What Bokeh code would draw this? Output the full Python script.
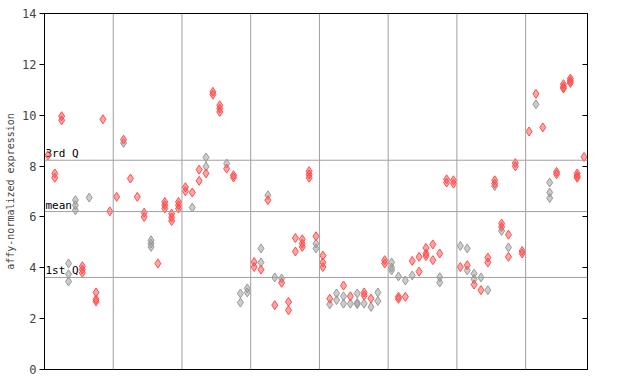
from bokeh.plotting import figure
from bokeh.models import Span, FixedTicker, LinearAxis, ColumnDataSource
from bokeh.core.properties import value
from bokeh.embed import file_html
from bokeh.resources import INLINE

# ---- data ----
red_cols = [0, 1, 1, 2, 2, 5, 5, 5, 7, 7, 7, 8, 9, 10, 11, 12, 13, 14, 14, 16,
            17, 17, 17, 18, 18, 18, 19, 19, 19, 20, 20, 21, 22, 22, 23, 24, 24,
            25, 25, 25, 26, 27, 27, 30, 30, 31, 32, 33, 34, 35, 35, 36, 36,
            37, 37, 37, 38, 38, 38, 39, 40, 40, 40, 41, 43, 44, 46, 46, 47,
            49, 49, 51, 51, 52, 53, 54, 54, 55, 55, 55, 56, 56, 57, 58, 58,
            59, 59, 60, 61, 62, 63, 64, 64, 65, 65, 66, 66, 67, 67, 68, 68,
            69, 69, 70, 71, 72, 74, 74, 75, 75, 75, 76, 76, 76, 77, 77, 77, 78]
red_vals = [8.42, 7.71, 7.54, 9.96, 9.80, 4.06, 3.93, 3.80, 3.03, 2.76, 2.67, 9.84,
            6.22, 6.79, 9.04, 7.51, 6.79, 6.17, 6.00, 4.17,
            6.59, 6.46, 6.33, 6.13, 5.98, 5.84, 6.59, 6.46, 6.33, 7.17, 7.01, 6.96,
            7.86, 7.42, 7.71, 10.92, 10.81,
            10.39, 10.26, 10.13, 7.90, 7.64, 7.55, 4.23, 4.03, 3.93, 6.66, 2.53, 3.41,
            2.66, 2.33, 5.17, 4.64,
            5.12, 4.95, 4.82, 7.80, 7.67, 7.54, 5.24, 4.48, 4.21, 4.03, 2.78, 3.30,
            2.88, 3.03, 2.91, 2.79,
            4.30, 4.17, 2.86, 2.78, 2.86, 4.27, 4.43, 3.85, 4.78, 4.56, 4.46, 4.92,
            4.30, 4.56, 7.48, 7.35,
            7.44, 7.31, 4.03, 4.10, 3.34, 3.12, 4.40, 4.21, 7.44, 7.31, 5.74, 5.61,
            5.30, 4.43, 8.12, 7.99,
            4.66, 4.56, 9.36, 10.84, 9.52, 7.77, 7.68, 11.22, 11.11, 11.05, 11.44,
            11.35, 11.27, 7.71, 7.61, 7.54, 8.36]

grey_cols = [3, 3, 3, 4, 4, 4, 6, 11, 15, 15, 15, 21, 23, 23, 26, 28, 28, 29, 29,
             31, 31, 32, 33, 34, 39, 39, 41, 42, 42, 43, 43, 44, 45, 45, 45, 46,
             47, 48, 48, 50, 50, 50, 51, 52, 53, 57, 57, 60, 61, 61, 62, 62, 63,
             64, 65, 66, 67, 71, 73, 73, 73]
grey_vals = [4.17, 3.75, 3.46, 6.66, 6.46, 6.26, 6.76, 8.91, 5.08, 4.95, 4.82, 6.37,
             8.34, 7.98, 8.10, 2.99, 2.63, 3.19, 3.03,
             4.76, 4.21, 6.85, 3.62, 3.58, 4.95, 4.76, 2.56, 2.99, 2.73, 2.88, 2.59,
             2.59, 2.99, 2.62, 2.57, 2.59,
             2.46, 3.03, 2.69, 4.21, 4.01, 3.90, 3.66, 3.50, 3.70, 3.63, 3.42, 4.86,
             4.76, 3.90, 3.77, 3.55, 3.62,
             3.12, 7.21, 5.45, 4.80, 10.43, 7.35, 6.96, 6.74]

n_samples = 79
group_size = 10
y_ticks = [0, 2, 4, 6, 8, 10, 12, 14]
quartile_names = ["3rd Q", "mean", "1st Q"]
quartile_vals = [8.23, 6.21, 3.62]

RED = "#ff4d4d"
GREY = "#999999"
FONT = "DejaVu Sans Mono"

p = figure(width=640, height=384, output_backend="svg", toolbar_location=None,
           x_range=(-0.5, n_samples - 0.5), y_range=(0, 14),
           min_border_left=44, min_border_right=53, min_border_top=13,
           min_border_bottom=15)
p.background_fill_color = "white"
p.border_fill_color = "white"
p.outline_line_color = "black"
p.outline_line_width = 1
p.xaxis.visible = False
p.xgrid.visible = False
p.ygrid.visible = False

ax = p.yaxis[0]
ax.ticker = FixedTicker(ticks=y_ticks)
ax.axis_label = "affy-normalized expression"
ax.axis_label_text_font = FONT
ax.axis_label_text_font_size = "10px"
ax.axis_label_text_font_style = "normal"
ax.axis_label_standoff = 3
ax.major_label_text_font = FONT
ax.major_label_text_font_size = "12px"
ax.major_label_standoff = 3
ax.major_tick_out = 5
ax.major_tick_in = 0
ax.minor_tick_line_color = None
ax.axis_line_color = "black"

rax = LinearAxis(ticker=FixedTicker(ticks=y_ticks), major_label_text_color=None,
                 major_tick_in=5, major_tick_out=0, minor_tick_line_color=None,
                 axis_line_color="black")
p.add_layout(rax, "right")

# vertical group separators
for b in range(group_size, n_samples, group_size):
    p.add_layout(Span(location=b - 0.5, dimension="height", line_color="#a0a0a0", line_width=1))

# quartile lines and labels
for name, q in zip(quartile_names, quartile_vals):
    p.add_layout(Span(location=q, dimension="width", line_color="#a0a0a0", line_width=1))
qsrc = ColumnDataSource(dict(x=[-0.5] * 3, y=quartile_vals, t=quartile_names))
p.text(x="x", y="y", text="t", source=qsrc, text_font=value(FONT),
       text_font_size="11px", text_baseline="bottom", text_align="left",
       x_offset=1, y_offset=0, text_color="black")

p.scatter(grey_cols, grey_vals, marker="diamond", size=9, line_color=GREY,
          fill_color=GREY, fill_alpha=0.5, line_width=1)
p.scatter(red_cols, red_vals, marker="diamond", size=9, line_color=RED,
          fill_color=RED, fill_alpha=0.5, line_width=1)

open("out.html", "w").write(file_html(p, INLINE))
